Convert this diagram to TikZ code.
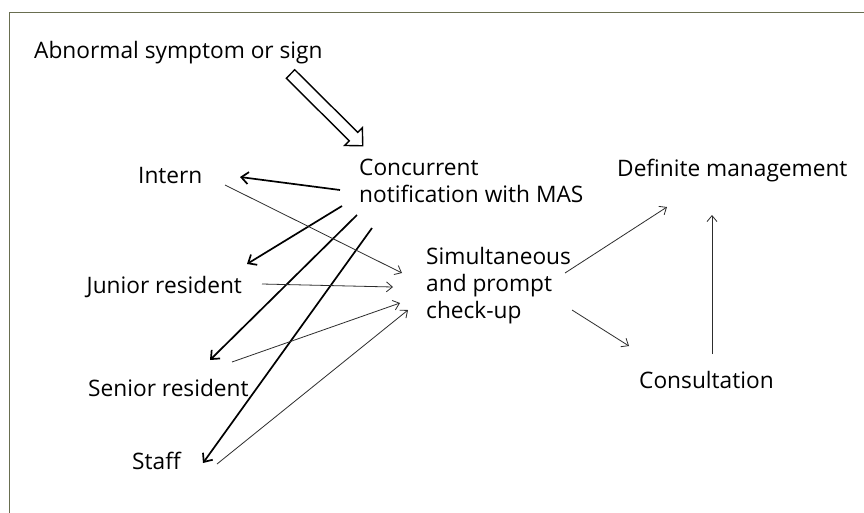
\documentclass[tikz,border=0pt]{standalone}
\usepackage{fontspec}
\setmainfont{Open Sans}
\usetikzlibrary{arrows.meta,calc}
\definecolor{framecol}{RGB}{105,110,80}
\definecolor{thincol}{RGB}{45,45,45}
\begin{document}
\begin{tikzpicture}[x=1pt,y=1pt,
  lbl/.style={anchor=base west,inner sep=0pt,font=\fontsize{22.7}{27}\selectfont,align=left},
  thickarr/.style={line width=1.7pt,black,-{Straight Barb[length=7pt,width=12pt,line width=1.7pt]}},
  thinarr/.style={line width=0.8pt,thincol,-{Straight Barb[length=6pt,width=10pt,line width=0.8pt]}},
  blockarr/.style={line width=1.4pt,black,fill=white,line join=miter}]
\useasboundingbox (0,0) rectangle (864,-512);
\fill[white] (0,0) rectangle (864,-512);
\draw[framecol,line width=1.8pt] (9.5,-530) -- (9.5,-12.5) -- (880,-12.5);
\node[lbl] (abn) at (34,-58) {Abnormal symptom or sign};
\node[lbl] (intern) at (138,-183) {Intern};
\node[lbl] (conc) at (359,-202) {Concurrent\\notification with MAS};
\node[lbl] (def) at (617,-176) {Definite management};
\node[lbl] (sim) at (426,-318) {Simultaneous\\and prompt\\check-up};
\node[lbl] (junior) at (86.5,-293) {Junior resident};
\node[lbl] (senior) at (88,-396) {Senior resident};
\node[lbl] (staff) at (132,-469) {Staff};
\node[lbl] (cons) at (639,-388) {Consultation};
% block arrow
\path let \p1=($(abn.base west)+(256.5,-16)$), \p2=($(conc.base west)+(4,56)$),
  \n1={atan2(\y2-\y1,\x2-\x1)}, \n2={veclen(\x2-\x1,\y2-\y1)} in
  \pgfextra{\xdef\baang{\n1}\xdef\balen{\n2}}
  coordinate (batail) at (\p1);
\begin{scope}[shift={(batail)},rotate=\baang]
\pgfmathsetmacro{\hb}{\balen/1pt-13}
\draw[blockarr] (0,6) -- (\hb,6) -- (\hb,12.5) -- (\balen/1pt,0) -- (\hb,-12.5) -- (\hb,-6) -- (0,-6) -- cycle;
\end{scope}
% thick arrows
\draw[thickarr] ($(conc.base west)+(-19,12)$) -- ($(intern.base west)+(102,6)$);
\draw[thickarr] ($(conc.base west)+(-17,-4)$) -- ($(junior.base west)+(160.5,29)$);
\draw[thickarr] ($(conc.base west)+(-2,-13)$) -- ($(senior.base west)+(122,36)$);
\draw[thickarr] ($(conc.base west)+(13,-26)$) -- ($(staff.base west)+(71,6)$);
% thin arrows
\draw[thinarr] ($(intern.base west)+(87,-2)$) -- ($(sim.base west)+(-24,45)$);
\draw[thinarr] ($(junior.base west)+(175.5,9)$) -- ($(sim.base west)+(-33,31)$);
\draw[thinarr] ($(senior.base west)+(144,34)$) -- ($(sim.base west)+(-26,15)$);
\draw[thinarr] ($(staff.base west)+(85,5)$) -- ($(sim.base west)+(-18,8)$);
\draw[thinarr] ($(sim.base west)+(139,45)$) -- ($(def.base west)+(50,-31)$);
\draw[thinarr] ($(sim.base west)+(146,8)$) -- ($(cons.base west)+(-10,42)$);
\draw[thinarr] ($(cons.base west)+(73,34)$) -- ($(def.base west)+(95,-39)$);
\end{tikzpicture}
\end{document}
